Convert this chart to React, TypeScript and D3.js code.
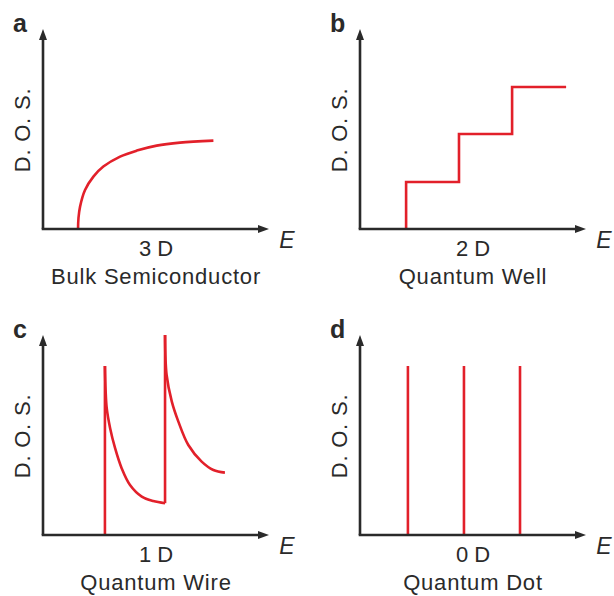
import * as d3 from "d3";

// density of states sketches (arbitrary units, axes 0..10)
const bulkE = [1.55, 1.57, 1.64, 1.86, 2.23, 2.67, 3.41, 4.15, 5.03, 6.06, 7.54];
const bulkDos = [0, 0.55, 1.12, 1.95, 2.62, 3.12, 3.62, 3.92, 4.17, 4.32, 4.42];

const wellEdges = [2.04, 4.38, 6.73];
const wellLevels = [2.35, 4.75, 7.1];
const wellEnd = 9.12;

const wireOnsets = [2.74, 5.4];
const wireTops = [8.45, 10];
const wireE1 = [2.74, 2.77, 2.82, 2.97, 3.19, 3.48, 3.85, 4.37, 4.88, 5.4];
const wireDos1 = [8.45, 7.25, 6.34, 5.34, 4.34, 3.34, 2.5, 1.92, 1.7, 1.59];
const wireE2 = [5.4, 5.47, 5.7, 5.99, 6.43, 7.02, 7.54, 8.05];
const wireDos2 = [10, 8.0, 6.67, 5.67, 4.5, 3.67, 3.25, 3.12];

const dotE = [2.12, 4.6, 7.08];
const dotPeak = 8.45;

const panelLetters = ["a", "b", "c", "d"];
const dimLabels = ["3 D", "2 D", "1 D", "0 D"];
const panelNames = ["Bulk Semiconductor", "Quantum Well", "Quantum Wire", "Quantum Dot"];

const W = 614;
const H = 596;
const axisW = 226;
const axisH = 200;
const red = "#e2202a";
const ink = "#2a2a2a";
const font = "'Liberation Sans', Arial, Helvetica, sans-serif";

const x = d3.scaleLinear().domain([0, 10]).range([0, axisW]);
const y = d3.scaleLinear().domain([0, 10]).range([axisH, 0]);

const smooth = d3
  .line<[number, number]>()
  .x((d) => x(d[0]))
  .y((d) => y(d[1]))
  .curve(d3.curveCatmullRom.alpha(0.5));

const stairs = d3
  .line<[number, number]>()
  .x((d) => x(d[0]))
  .y((d) => y(d[1]))
  .curve(d3.curveStepAfter);

function zipPts(a: number[], b: number[]): [number, number][] {
  return a.map((v, i) => [v, b[i]]);
}

function Curves({ idx }: { idx: number }) {
  const common = { fill: "none", stroke: red, strokeWidth: 2.6 };
  if (idx === 0) {
    return <path d={smooth(zipPts(bulkE, bulkDos)) || ""} {...common} />;
  }
  if (idx === 1) {
    const pts: [number, number][] = [[wellEdges[0], 0]];
    wellEdges.forEach((e, i) => pts.push([e, wellLevels[i]]));
    pts.push([wellEnd, wellLevels[wellLevels.length - 1]]);
    return <path d={stairs(pts) || ""} {...common} strokeLinejoin="miter" />;
  }
  if (idx === 2) {
    return (
      <g>
        <line x1={x(wireOnsets[0])} x2={x(wireOnsets[0])} y1={y(0)} y2={y(wireTops[0])} {...common} />
        <path d={smooth(zipPts(wireE1, wireDos1)) || ""} {...common} />
        <line
          x1={x(wireOnsets[1])}
          x2={x(wireOnsets[1])}
          y1={y(wireDos1[wireDos1.length - 1])}
          y2={y(wireTops[1])}
          {...common}
        />
        <path d={smooth(zipPts(wireE2, wireDos2)) || ""} {...common} />
      </g>
    );
  }
  return (
    <g>
      {dotE.map((e) => (
        <line key={e} x1={x(e)} x2={x(e)} y1={y(0)} y2={y(dotPeak)} {...common} />
      ))}
    </g>
  );
}

function Panel({ idx, ox, oy }: { idx: number; ox: number; oy: number }) {
  // ox, oy: top-left of the plot box (y-axis tip)
  const arrowL = 11;
  const arrowHalf = 4;
  const textStyle = { fontFamily: font, fontSize: 22, letterSpacing: "0.8px", fill: ink };
  return (
    <g transform={`translate(${ox},${oy})`}>
      <text x={-30} y={3} fontFamily={font} fontSize={25} fontWeight="bold" fill={ink}>
        {panelLetters[idx]}
      </text>
      <text
        transform={`translate(${-13},${101}) rotate(-90)`}
        textAnchor="middle"
        {...textStyle}
      >
        D. O. S.
      </text>
      <Curves idx={idx} />
      {/* axes */}
      <line x1={0} y1={axisH} x2={0} y2={arrowL - 1} stroke={ink} strokeWidth={2.6} />
      <line x1={-1.3} y1={axisH} x2={axisW - arrowL + 1} y2={axisH} stroke={ink} strokeWidth={2.6} />
      <path d={`M0,0 L${arrowHalf},${arrowL} L${-arrowHalf},${arrowL} Z`} fill={ink} />
      <path
        d={`M${axisW},${axisH} L${axisW - arrowL},${axisH - arrowHalf} L${axisW - arrowL},${axisH + arrowHalf} Z`}
        fill={ink}
      />
      <text
        x={244}
        y={axisH + 19}
        textAnchor="middle"
        fontFamily={font}
        fontSize={23}
        fontStyle="italic"
        fill={ink}
      >
        E
      </text>
      <text x={113} y={axisH + 27} textAnchor="middle" {...textStyle} letterSpacing="0px">
        {dimLabels[idx]}
      </text>
      <text x={113} y={axisH + 55} textAnchor="middle" {...textStyle}>
        {panelNames[idx]}
      </text>
    </g>
  );
}

export default function App() {
  const origins: [number, number][] = [
    [43, 29],
    [360, 29],
    [43, 335],
    [360, 335],
  ];
  return (
    <svg
      width={W}
      height={H}
      viewBox={`0 0 ${W} ${H}`}
      style={{ position: "absolute", left: 0, top: 0, background: "#fff" }}
    >
      <rect width={W} height={H} fill="#fff" />
      {origins.map(([ox, oy], i) => (
        <Panel key={i} idx={i} ox={ox} oy={oy} />
      ))}
    </svg>
  );
}
